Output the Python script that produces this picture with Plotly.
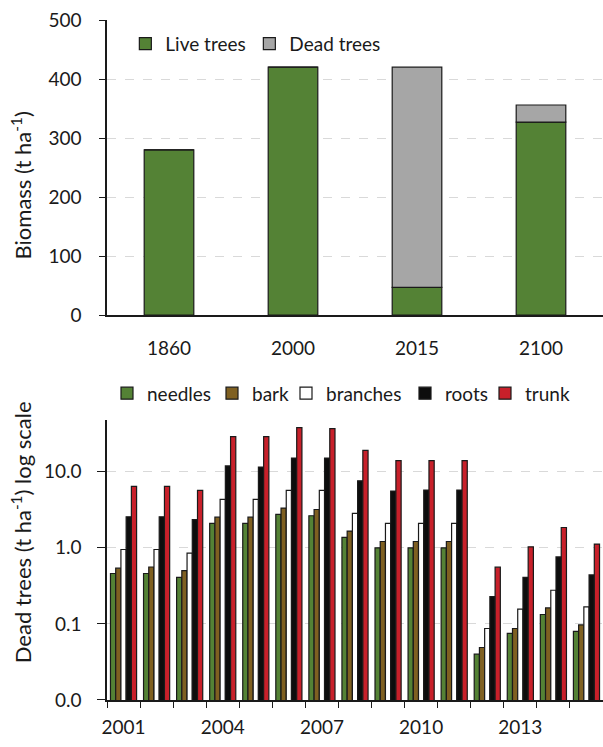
import plotly.graph_objects as go

# ---- top chart data ----
top_years = ["1860", "2000", "2015", "2100"]
live_trees = [280, 420, 47, 327]
dead_trees = [0, 0, 373, 29]

# ---- bottom chart data ----
years = [str(y) for y in range(2001, 2016)]
needles = [0.46, 0.46, 0.41, 2.09, 2.09, 2.75, 2.64, 1.37, 1.0, 1.0, 1.0, 0.040, 0.075, 0.133, 0.080]
bark = [0.54, 0.56, 0.50, 2.53, 2.53, 3.33, 3.19, 1.66, 1.21, 1.21, 1.21, 0.049, 0.087, 0.162, 0.097]
branches = [0.95, 0.95, 0.85, 4.33, 4.33, 5.68, 5.68, 2.83, 2.09, 2.09, 2.09, 0.087, 0.156, 0.277, 0.167]
roots = [2.56, 2.56, 2.34, 11.9, 11.5, 15.1, 15.1, 7.6, 5.57, 5.74, 5.74, 0.229, 0.41, 0.76, 0.44]
trunk = [6.4, 6.4, 5.7, 28.9, 28.9, 37.9, 36.8, 19.1, 14.0, 14.0, 14.0, 0.557, 1.03, 1.85, 1.12]
year_labels = ["2001", "", "", "2004", "", "", "2007", "", "", "2010", "", "", "2013", "", ""]

GREEN = "#548235"
BROWN = "#7f6021"
GRAY = "#a6a6a6"
RED = "#c8202a"
BLACK = "#0d0d0d"
FONT = "Lato"
INK = "#1a1a1a"
LINE = dict(color=INK, width=1.2)

fig = go.Figure()

fig.add_trace(go.Bar(x=top_years, y=live_trees, name="Live trees", marker=dict(color=GREEN, line=LINE),
                     width=0.4, offsetgroup="t", xaxis="x", yaxis="y", legend="legend", legendwidth=79))
fig.add_trace(go.Bar(x=top_years, y=dead_trees, base=live_trees, name="Dead trees",
                     marker=dict(color=GRAY, line=LINE),
                     width=0.4, offsetgroup="t", xaxis="x", yaxis="y", legend="legend", legendwidth=90))

for name, vals, col, lw in [("needles", needles, GREEN, 60), ("bark", bark, BROWN, 29),
                            ("branches", branches, "#ffffff", 74), ("roots", roots, BLACK, 35),
                            ("trunk", trunk, RED, 50)]:
    fig.add_trace(go.Bar(x=years, y=vals, name=name, marker=dict(color=col, line=LINE),
                         xaxis="x2", yaxis="y2", legend="legend2", legendwidth=lw))

grid = dict(showgrid=True, gridcolor="#d9d9d9", griddash="dash", gridwidth=1)

fig.update_layout(
    width=603, height=747,
    margin=dict(l=107, r=0, t=20, b=47, autoexpand=False),
    paper_bgcolor="white", plot_bgcolor="white",
    font=dict(family=FONT, size=19, color=INK),
    barmode="group", bargap=0.21, bargroupgap=0,
    xaxis=dict(domain=[0, 1], anchor="y", type="category", range=[-0.5, 3.5], automargin=False,
               showline=True, linecolor=INK, linewidth=1.5, ticks="",
               ticklabelstandoff=15, tickfont=dict(size=19), tickangle=0),
    yaxis=dict(domain=[0.566, 1.0], anchor="x", range=[0, 500], dtick=100, automargin=False,
               showline=True, linecolor=INK, linewidth=1.5, ticks="outside", ticklen=6,
               tickcolor=INK, ticklabelstandoff=14, ticklabelposition="outside",
               zeroline=False, **grid),
    xaxis2=dict(domain=[0, 1], anchor="y2", type="category", range=[-0.5, 14.5], automargin=False,
                tickmode="array", tickvals=years, ticktext=year_labels, tickson="boundaries",
                ticks="outside", ticklen=6, tickcolor=INK, tickangle=0,
                showline=True, linecolor=INK, linewidth=1.5, showgrid=False,
                ticklabelstandoff=9),
    yaxis2=dict(domain=[0, 0.4118], anchor="x2", type="log", range=[-2, 1.68], automargin=False,
                dtick=1, tickformat=".1f",
                showline=True, linecolor=INK, linewidth=1.5, ticks="outside", ticklen=8,
                tickcolor=INK, ticklabelstandoff=12, ticklabelposition="outside", **grid),
    legend=dict(orientation="h", x=0.037, y=0.965, xanchor="left", yanchor="middle",
                bgcolor="rgba(0,0,0,0)", font=dict(size=19), traceorder="normal", itemwidth=30),
    legend2=dict(orientation="h", x=0.0, y=0.451, xanchor="left", yanchor="middle",
                 bgcolor="rgba(0,0,0,0)", font=dict(size=19), traceorder="normal", itemwidth=30),
    showlegend=True,
    annotations=[
        dict(text="Biomass (t ha<sup>-1</sup>)", textangle=-90, xref="paper", yref="paper",
             x=-0.173, y=0.757, showarrow=False, font=dict(size=22), xanchor="center", yanchor="middle"),
        dict(text="Dead trees (t ha<sup>-1</sup>) log scale", textangle=-90, xref="paper", yref="paper",
             x=-0.173, y=0.247, showarrow=False, font=dict(size=22), xanchor="center", yanchor="middle"),
    ],
)

fig.write_html("out.html", config={"displayModeBar": False},
               post_script="document.body.style.margin='0';")
